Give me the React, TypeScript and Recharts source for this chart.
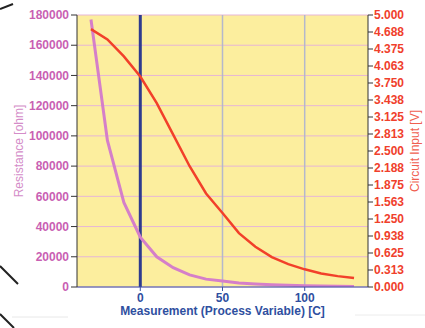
import React from "react";
import {
  ComposedChart,
  Line,
  XAxis,
  YAxis,
  CartesianGrid,
  ReferenceLine,
} from "recharts";

const temps = [-30, -20, -10, 0, 10, 20, 30, 40, 50, 60, 70, 80, 90, 100, 110, 120, 130];
const resistance = [
  177000, 97000, 56000, 33000, 20000, 12800, 8000, 5200, 3900, 2700, 2000, 1500, 1100,
  850, 650, 500, 400,
];
const circuitInput = [
  4.74, 4.55, 4.24, 3.87, 3.38, 2.8, 2.22, 1.72, 1.36, 0.99, 0.74, 0.55, 0.42, 0.325, 0.25,
  0.2, 0.165,
];
const tempTicks = [0, 50, 100];
const ohmTicks = [0, 20000, 40000, 60000, 80000, 100000, 120000, 140000, 160000, 180000];
const voltTicks = [
  0, 0.3125, 0.625, 0.9375, 1.25, 1.5625, 1.875, 2.1875, 2.5, 2.8125, 3.125, 3.4375, 3.75,
  4.0625, 4.375, 4.6875, 5,
];

const data = temps.map((t, i) => ({
  t,
  ohm: resistance[i],
  volt: circuitInput[i],
}));

const FONT = "'Liberation Sans', Arial, sans-serif";

const App = () => {
  return (
    <div style={{ position: "absolute", left: 0, top: 0, width: 425, height: 328 }}>
      <ComposedChart
        width={425}
        height={328}
        data={data}
        margin={{ top: 15, right: 0, bottom: 0, left: 0 }}
        style={{ fontFamily: FONT }}
      >
        <CartesianGrid
          yAxisId="r"
          vertical={false}
          stroke="#e6b6d6"
          fill="#fcee9e"
          fillOpacity={1}
        />
        <XAxis
          dataKey="t"
          type="number"
          domain={[-38.5, 138.5]}
          allowDataOverflow
          ticks={tempTicks}
          height={41}
          stroke="#3a55a8"
          tickSize={4}
          tick={{ fill: "#2f4fa0", fontSize: 12, fontWeight: "bold" }}
          label={{
            content: (props: any) => {
              const vb = props.viewBox;
              return (
                <text
                  x={vb.x + vb.width / 2}
                  y={315}
                  textAnchor="middle"
                  fill="#2f4fa0"
                  fontSize={12}
                  fontWeight="bold"
                >
                  Measurement (Process Variable) [C]
                </text>
              );
            },
          }}
        />
        <YAxis
          yAxisId="r"
          orientation="left"
          width={77}
          domain={[0, 180000]}
          allowDataOverflow
          ticks={ohmTicks}
          interval={0}
          stroke="#333"
          tickSize={6}
          tick={{ fill: "#c95fb3", fontSize: 12, fontWeight: "bold" }}
          label={{
            content: (props: any) => {
              const vb = props.viewBox;
              const cx = 19;
              const cy = vb.y + vb.height / 2;
              return (
                <text
                  x={cx}
                  y={cy}
                  transform={`rotate(-90 ${cx} ${cy})`}
                  textAnchor="middle"
                  dominantBaseline="central"
                  fill="#d48cc8"
                  fontSize={12}
                >
                  Resistance [ohm]
                </text>
              );
            },
          }}
        />
        <YAxis
          yAxisId="v"
          orientation="right"
          width={57}
          domain={[0, 5]}
          allowDataOverflow
          ticks={voltTicks}
          interval={0}
          stroke="#333"
          tickSize={5}
          tickMargin={1}
          tickFormatter={(v: number) => v.toFixed(3)}
          tick={{ fill: "#f0402c", fontSize: 12, fontWeight: "bold" }}
          label={{
            content: (props: any) => {
              const vb = props.viewBox;
              const cx = 415;
              const cy = vb.y + vb.height / 2;
              return (
                <text
                  x={cx}
                  y={cy}
                  transform={`rotate(-90 ${cx} ${cy})`}
                  textAnchor="middle"
                  dominantBaseline="central"
                  fill="#f06050"
                  fontSize={12}
                >
                  Circuit Input [V]
                </text>
              );
            },
          }}
        />
        <ReferenceLine yAxisId="r" x={50} stroke="#b4b8cc" strokeWidth={1.5} />
        <ReferenceLine yAxisId="r" x={100} stroke="#b4b8cc" strokeWidth={1.5} />
        <ReferenceLine yAxisId="r" x={0} stroke="#2e3b8f" strokeWidth={3} />
        <Line
          yAxisId="r"
          dataKey="ohm"
          type="linear"
          stroke="#d57fc9"
          strokeWidth={3}
          dot={false}
          isAnimationActive={false}
        />
        <Line
          yAxisId="v"
          dataKey="volt"
          type="linear"
          stroke="#f2402a"
          strokeWidth={2.5}
          dot={false}
          isAnimationActive={false}
        />
      </ComposedChart>
      <svg
        width={425}
        height={328}
        style={{ position: "absolute", left: 0, top: 0, pointerEvents: "none" }}
      >
        <line x1={0} y1={9} x2={13} y2={4} stroke="#222" strokeWidth={2} />
        <line x1={0} y1={266} x2={18} y2={284} stroke="#222" strokeWidth={2} />
        <line x1={0} y1={314} x2={14} y2={328} stroke="#222" strokeWidth={2} />
        <line x1={12} y1={317} x2={68} y2={317} stroke="#e8e8e8" strokeWidth={1} />
        <line x1={355} y1={315} x2={425} y2={315} stroke="#ececec" strokeWidth={1} />
      </svg>
    </div>
  );
};

export default App;
